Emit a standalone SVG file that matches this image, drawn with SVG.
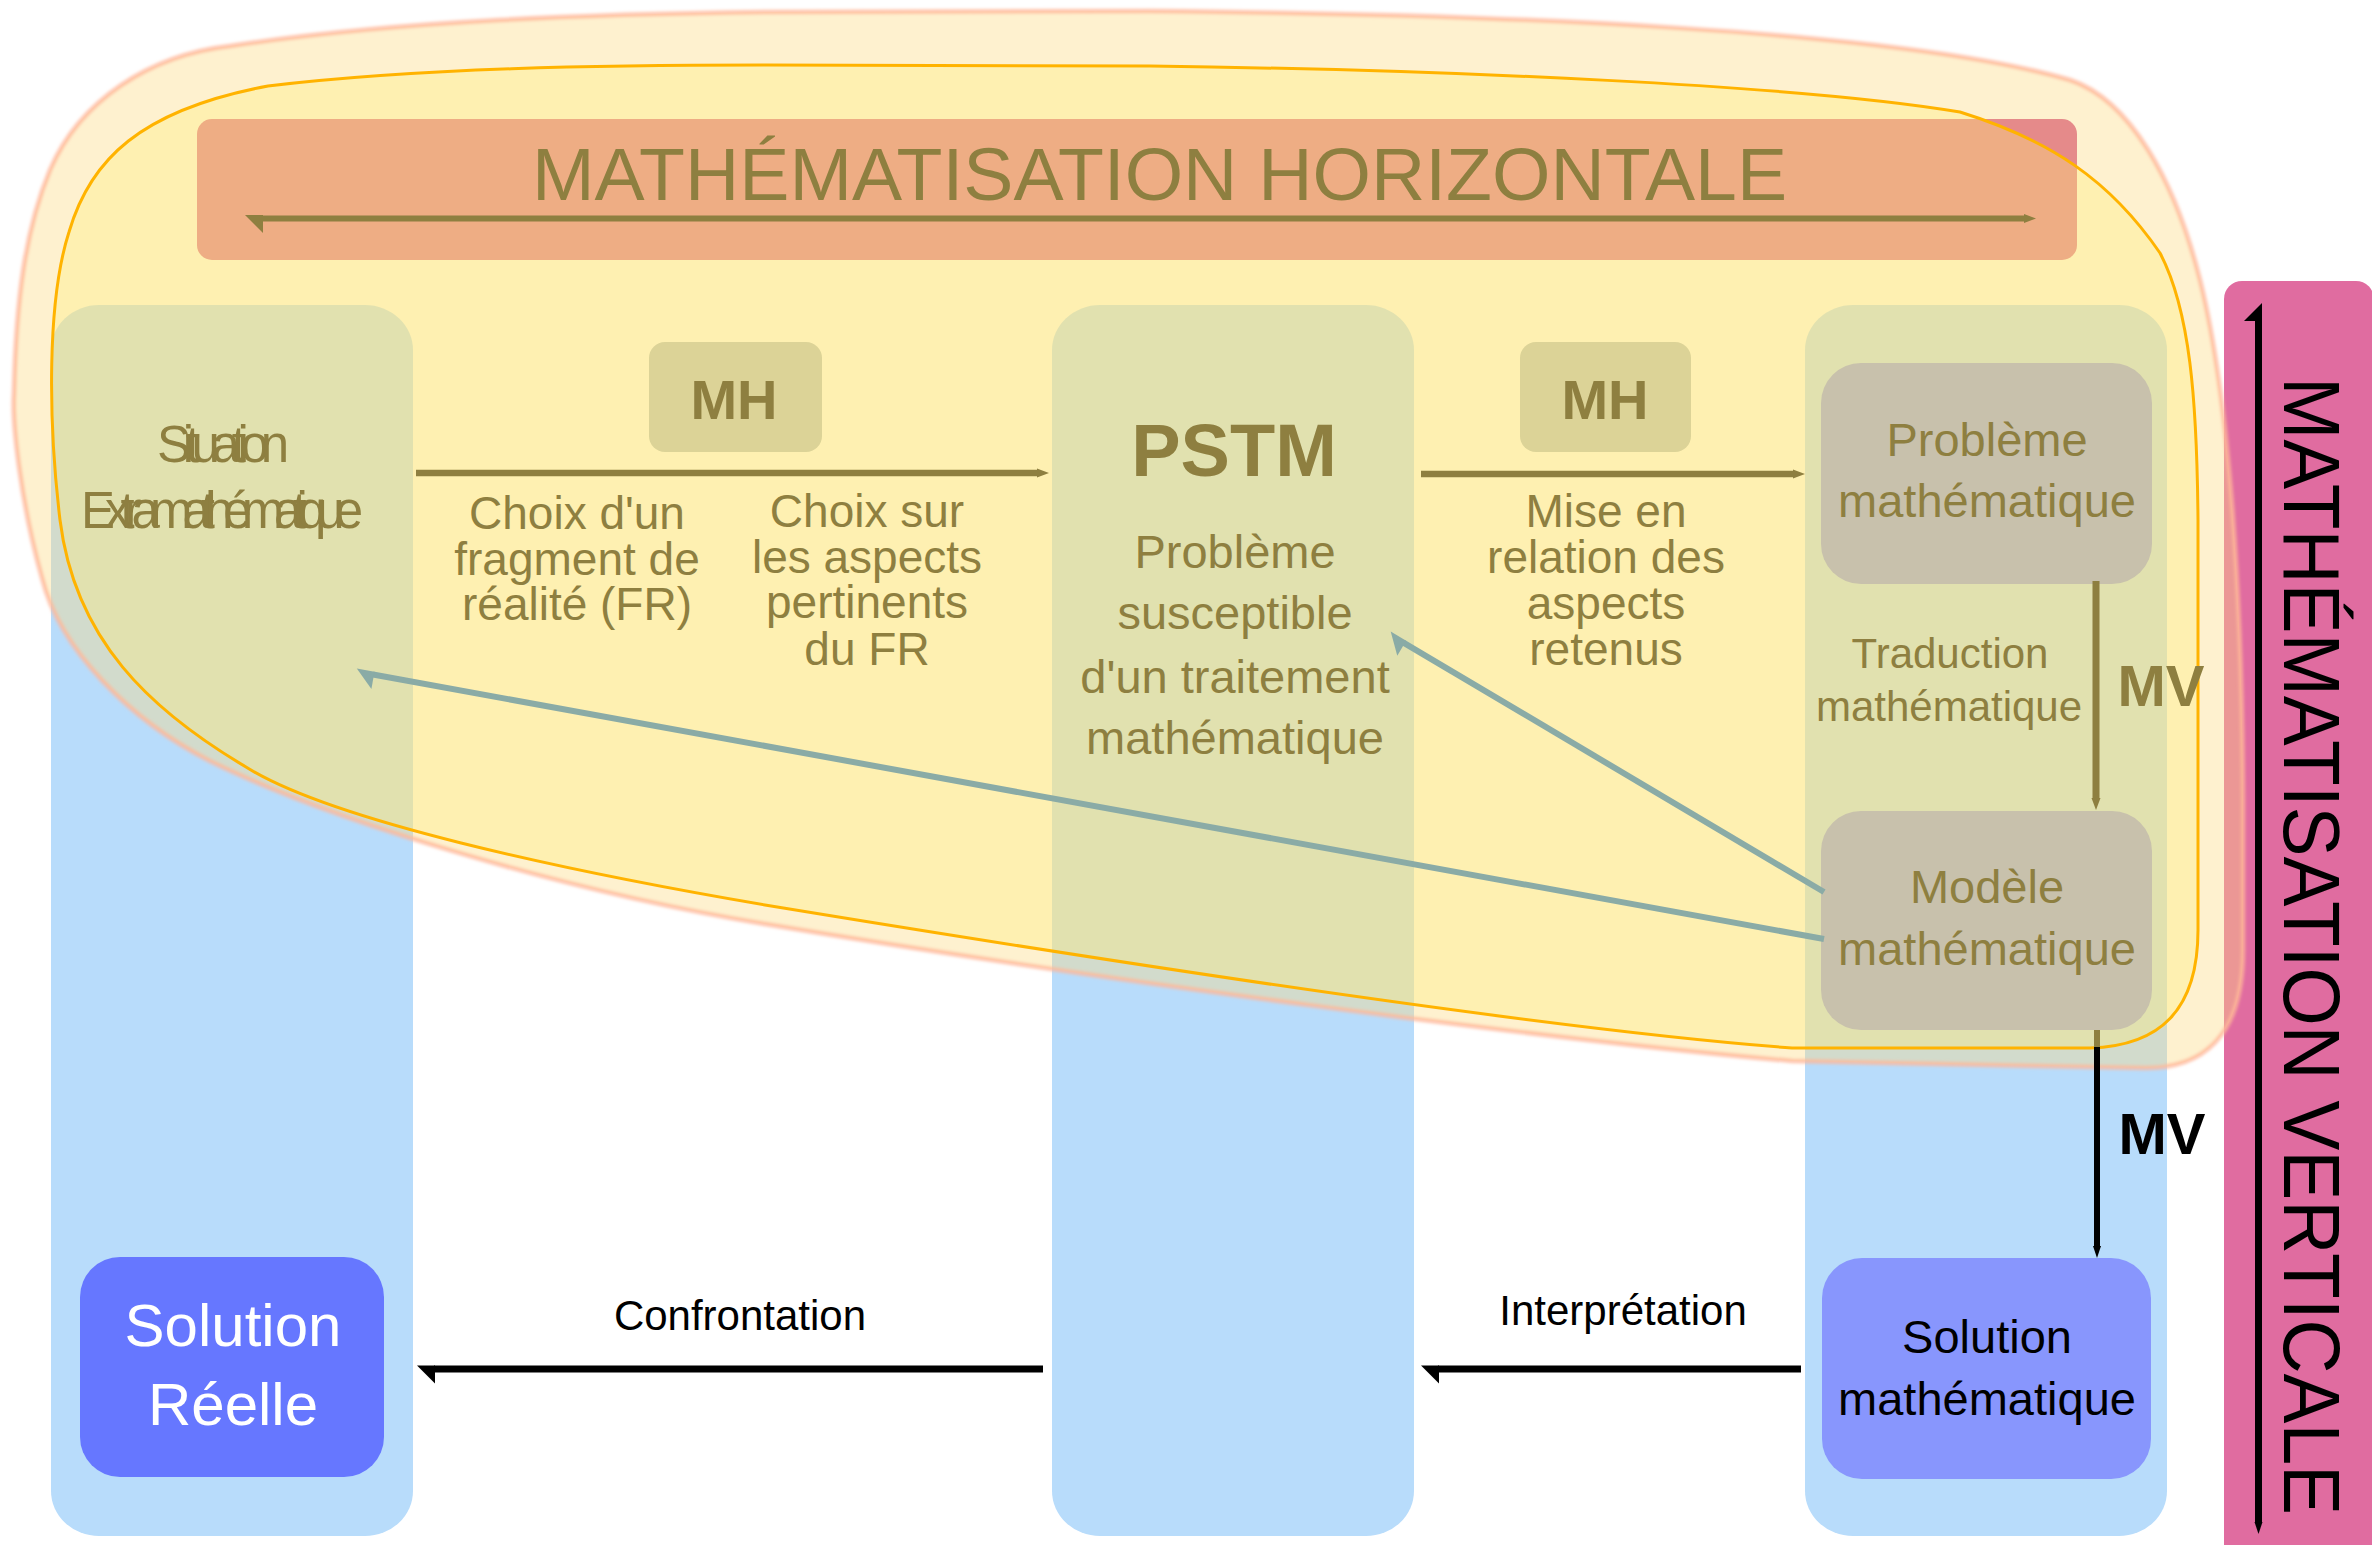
<svg xmlns="http://www.w3.org/2000/svg" width="2372" height="1545" viewBox="0 0 2372 1545">
<style>
  text { font-family: "Liberation Sans", Arial, sans-serif; }
  .ol { fill: #8E7F40; }
  .bk { fill: #000000; }
  .wh { fill: #FFFFFF; }
  .mid { text-anchor: middle; }
  .f46 { font-size: 46px; }
  .f47 { font-size: 47px; }
  .f42 { font-size: 42px; }
  .b { font-weight: bold; }
  .lane { fill: #B8DCFB; }
  .mh { fill: #DCD397; }
  .gbox { fill: #C8C1AC; }
  .lo { stroke: #8E7F40; fill: none; }
  .lb { stroke: #000000; fill: none; }
  .lt { stroke: #8AABA6; fill: none; stroke-width: 6; }
</style>
<defs>
  <filter id="soft" x="-5%" y="-5%" width="110%" height="110%">
    <feGaussianBlur stdDeviation="1.6"/>
  </filter>
  <path id="outerShape" d="M 765,12 L 1150,11 C 1500,14 1900,30 2070,80 C 2130,100 2175,180 2200,280 C 2230,400 2242,600 2243,800 L 2243,950 C 2243,1040 2200,1068 2146,1068 L 1792,1061 C 1550,1040 1100,980 765,924 C 560,890 330,820 210,761 C 130,720 60,650 42,578 C 20,500 12,420 14,393 C 16,300 25,230 50,170 C 80,100 150,55 230,46 C 400,20 600,14 765,12 Z"/>
  <marker id="hbOl" markerUnits="userSpaceOnUse" orient="auto" overflow="visible" refX="0" refY="0" markerWidth="20" markerHeight="20">
    <path d="M-1,3.5 L17,3.5 L-1,-14.5 Z" fill="#8E7F40"/>
  </marker>
  <marker id="hbBk" markerUnits="userSpaceOnUse" orient="auto" overflow="visible" refX="0" refY="0" markerWidth="20" markerHeight="20">
    <path d="M-1,3.5 L17,3.5 L-1,-14.5 Z" fill="#000000"/>
  </marker>
  <marker id="hbTe" markerUnits="userSpaceOnUse" orient="auto" overflow="visible" refX="0" refY="0" markerWidth="20" markerHeight="20">
    <path d="M-1,3 L17,3 L-1,-14.5 Z" fill="#8AABA6"/>
  </marker>
  <marker id="tipOl" markerUnits="userSpaceOnUse" orient="auto-start-reverse" overflow="visible" refX="0" refY="0" markerWidth="12" markerHeight="12">
    <path d="M-1,-4.5 L11,0 L-1,4.5 Z" fill="#8E7F40"/>
  </marker>
  <marker id="tipBk" markerUnits="userSpaceOnUse" orient="auto-start-reverse" overflow="visible" refX="0" refY="0" markerWidth="12" markerHeight="12">
    <path d="M-1,-4 L11,0 L-1,4 Z" fill="#000000"/>
  </marker>
</defs>

<!-- background lanes -->
<g id="lane-reel"><rect class="lane" x="51" y="305" width="362" height="1231" rx="48" ry="45"/></g>
<g id="lane-pstm"><rect class="lane" x="1052" y="305" width="362" height="1231" rx="48" ry="45"/></g>
<g id="lane-math"><rect class="lane" x="1805" y="305" width="362" height="1231" rx="48" ry="45"/></g>

<!-- vertical mathematisation bar -->
<g id="bar-vertical">
  <rect x="2224" y="281" width="150" height="1290" rx="18" fill="#E06CA0"/>
</g>

<!-- outer halo of the horizontal zone -->
<g id="zone-outer">
  <use href="#outerShape" fill="#FCDC83" fill-opacity="0.39"/>
  <use href="#outerShape" fill="none" stroke="#FFB899" stroke-opacity="0.8" stroke-width="4.5" filter="url(#soft)"/>
</g>

<!-- horizontal banner background -->
<rect id="banner-bg" x="197" y="119" width="1880" height="141" rx="15" fill="#E58A8A"/>

<!-- inner zone -->
<path id="zone-inner" d="M 765,65 L 1150,66 C 1450,70 1800,85 1960,112 C 2050,140 2110,180 2160,253 C 2190,310 2197,400 2198,520 L 2198,930 C 2198,1010 2160,1046 2090,1048 L 1792,1048 C 1550,1030 1100,960 765,905 C 560,870 330,820 246,767 C 150,710 75,640 60,520 C 48,420 47,300 69,232 C 90,160 140,110 268,86 C 420,68 600,65 765,65 Z" fill="#FEEE78" fill-opacity="0.35" stroke="#FFB300" stroke-width="3"/>

<!-- banner label -->
<g id="banner-horizontal">
  <text class="ol" x="532" y="200" font-size="75" textLength="1255" lengthAdjust="spacingAndGlyphs">MATHÉMATISATION HORIZONTALE</text>
</g>

<g id="label-vertical">
  <text class="bk" transform="translate(2284,377) rotate(90)" x="0" y="0" font-size="79" textLength="1138" lengthAdjust="spacingAndGlyphs">MATHÉMATISATION VERTICALE</text>
</g>

<!-- nodes -->
<g id="node-situation">
  <text class="ol" x="157" y="462" font-size="51" textLength="132" lengthAdjust="spacing">Situation</text>
  <text class="ol" x="81" y="528" font-size="51" textLength="282" lengthAdjust="spacing">Extramathématique</text>
</g>

<g id="node-mh1">
  <rect class="mh" x="649" y="342" width="173" height="110" rx="16"/>
  <text class="ol b mid" x="734" y="419" font-size="56">MH</text>
</g>

<g id="node-mh2">
  <rect class="mh" x="1520" y="342" width="171" height="110" rx="16"/>
  <text class="ol b mid" x="1605" y="419" font-size="56">MH</text>
</g>

<g id="label-choix1">
  <text class="ol mid f46" x="577" y="529">Choix d'un</text>
  <text class="ol mid f46" x="577" y="575">fragment de</text>
  <text class="ol mid f46" x="577" y="620">réalité (FR)</text>
</g>

<g id="label-choix2">
  <text class="ol mid f46" x="867" y="527">Choix sur</text>
  <text class="ol mid f46" x="867" y="573">les aspects</text>
  <text class="ol mid f46" x="867" y="618">pertinents</text>
  <text class="ol mid f46" x="867" y="665">du FR</text>
</g>

<g id="node-pstm">
  <text class="ol b mid" x="1234" y="476" font-size="74">PSTM</text>
  <text class="ol mid f47" x="1235" y="568">Problème</text>
  <text class="ol mid f47" x="1235" y="629">susceptible</text>
  <text class="ol mid f47" x="1235" y="693">d'un traitement</text>
  <text class="ol mid f47" x="1235" y="754">mathématique</text>
</g>

<g id="label-mise">
  <text class="ol mid f46" x="1606" y="527">Mise en</text>
  <text class="ol mid f46" x="1606" y="573">relation des</text>
  <text class="ol mid f46" x="1606" y="619">aspects</text>
  <text class="ol mid f46" x="1606" y="665">retenus</text>
</g>

<g id="node-probleme">
  <rect class="gbox" x="1821" y="363" width="331" height="221" rx="40"/>
  <text class="ol mid f47" x="1987" y="456">Problème</text>
  <text class="ol mid f47" x="1987" y="517">mathématique</text>
</g>

<g id="label-traduction">
  <text class="ol mid f42" x="1950" y="668">Traduction</text>
  <text class="ol mid f42" x="1949" y="721">mathématique</text>
  <text class="ol b mid" x="2161" y="706" font-size="58">MV</text>
</g>

<g id="node-modele">
  <rect class="gbox" x="1821" y="811" width="331" height="219" rx="40"/>
  <text class="ol mid f47" x="1987" y="903">Modèle</text>
  <text class="ol mid f47" x="1987" y="965">mathématique</text>
</g>

<g id="label-mv">
  <text class="bk b mid" x="2162" y="1154" font-size="58">MV</text>
</g>

<g id="node-solution-math">
  <rect x="1822" y="1258" width="329" height="221" rx="40" fill="#8896FD"/>
  <text class="bk mid f47" x="1987" y="1353">Solution</text>
  <text class="bk mid f47" x="1987" y="1415">mathématique</text>
</g>

<g id="node-solution-reelle">
  <rect x="80" y="1257" width="304" height="220" rx="40" fill="#6677FF"/>
  <text class="wh mid" x="233" y="1346" font-size="60">Solution</text>
  <text class="wh mid" x="233" y="1425" font-size="60">Réelle</text>
</g>

<g id="label-confrontation">
  <text class="bk mid f42" x="740" y="1330">Confrontation</text>
</g>
<g id="label-interpretation">
  <text class="bk mid f42" x="1623" y="1325">Interprétation</text>
</g>

<!-- connectors -->
<g id="connectors">
  <path class="lo" stroke-width="6" d="M 2025,218.5 L 262,218.5" marker-start="url(#tipOl)" marker-end="url(#hbOl)"/>
  <path class="lo" stroke-width="6.5" d="M 416,473 L 1038,473" marker-end="url(#tipOl)"/>
  <path class="lo" stroke-width="6.5" d="M 1421,474 L 1794,474" marker-end="url(#tipOl)"/>
  <path class="lo" stroke-width="7" d="M 2096,581 L 2096,799" marker-end="url(#tipOl)"/>
  <path class="lo" stroke-width="6" d="M 2097,1030 L 2097,1048"/>
  <path class="lb" stroke-width="6" d="M 2097,1047 L 2097,1247" marker-end="url(#tipBk)"/>
  <path class="lb" stroke-width="7" d="M 1043,1369 L 434,1369" marker-end="url(#hbBk)"/>
  <path class="lb" stroke-width="7" d="M 1801,1369 L 1438,1369" marker-end="url(#hbBk)"/>
  <path class="lb" stroke-width="7" d="M 2258.5,1523 L 2258.5,320" marker-start="url(#tipBk)" marker-end="url(#hbBk)"/>
  <path class="lt" d="M 1824,939 L 373,674.5" marker-end="url(#hbTe)"/>
  <path class="lt" d="M 1824,892 L 1403.8,642.8" marker-end="url(#hbTe)"/>
</g>
</svg>
